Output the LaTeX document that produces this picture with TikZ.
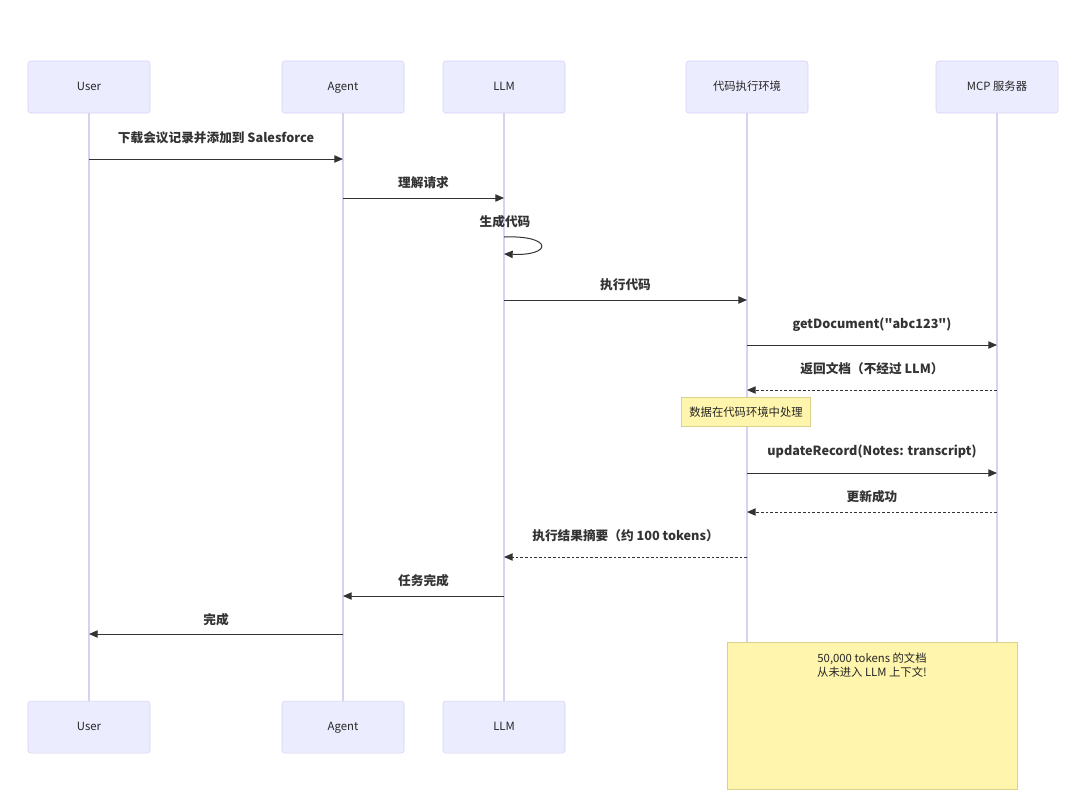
\documentclass[tikz,border=0pt]{standalone}
\usepackage{fontspec}
\setmainfont{Noto Sans CJK SC}[Ligatures=TeXOff]
\usetikzlibrary{arrows.meta,positioning,calc}
\definecolor{actfill}{HTML}{ECECFF}
\definecolor{actline}{HTML}{D6D2F4}
\definecolor{notefill}{HTML}{FFF5AD}
\definecolor{noteline}{HTML}{D8D28C}
\definecolor{txt}{HTML}{333333}

\begin{document}
\begin{tikzpicture}[
  x=0.75pt,y=-0.75pt,
  font=\fontsize{8.5}{10}\selectfont,
  act/.style={draw=actline,fill=actfill,rounded corners=2pt,minimum width=91.5pt,
              minimum height=39pt,inner sep=0pt,text=black!85,
              text height=6.5pt,text depth=1.5pt},
  life/.style={draw=actline,line width=0.8pt},
  msg/.style={draw=txt,line width=0.75pt,-{Triangle[length=6.5pt,width=5.5pt]}},
  ret/.style={msg,dash pattern=on 2pt off 1.5pt},
  lbl/.style={font=\bfseries\fontsize{9.5}{11}\selectfont,text=txt,inner sep=0pt},
  nt/.style={draw=noteline,fill=notefill,inner sep=0pt,align=center,text=black!85}]

\useasboundingbox (0,0) rectangle (1080,790);

% actors (top)
\node[act] (uT) at (89,87)  {User};
\node[act] (aT) at (343,87) {Agent};
\node[act] (lT) at (504,87) {LLM};
\node[act] (cT) at (747,87) {代码执行环境};
\node[act] (mT) at (997,87) {MCP 服务器};

% actors (bottom)
\node[act] (uB) at (89,727)  {User};
\node[act] (aB) at (343,727) {Agent};
\node[act] (lB) at (504,727) {LLM};

% lifelines
\foreach \t/\b in {uT/uB,aT/aB,lT/lB} { \draw[life] (\t) -- (\b); }
\coordinate (cE) at (747,642);
\coordinate (mE) at (997,642);
\draw[life] (cT) -- (cE);
\draw[life] (mT) -- (mE);

% messages
\foreach \p/\q/\y/\ly/\s/\t in {
  uT/aT/159/138/msg/{下载会议记录并添加到 Salesforce},
  aT/lT/198/183/msg/{理解请求},
  lT/cT/300/285/msg/{执行代码},
  cT/mT/345/325/msg/{getDocument("abc123")},
  mT/cT/390/369/ret/{返回文档（不经过 LLM）},
  cT/mT/473/451/msg/{updateRecord(Notes: transcript)},
  mT/cT/512/497/ret/{更新成功},
  cT/lT/557/536/ret/{执行结果摘要（约 100 tokens）},
  lT/aT/596/581/msg/{任务完成},
  aT/uT/634/620/msg/{完成}}
{
  \draw[\s] (\p |- 0,\y) -- (\q |- 0,\y);
  \node[lbl] at ($(\p |- 0,\ly)!0.5!(\q |- 0,\ly)$) {\t};
}

% self call
\node[lbl] (gen) at (505,222) {生成代码};
\draw[msg] (lT |- 0,237) .. controls (553,235) and (553,256) .. (lT |- 0,254);

% notes
\node[nt,minimum width=96.75pt,minimum height=21.75pt] (n1) at (746,412) {数据在代码环境中处理};
\node[nt,minimum width=217.5pt,minimum height=110pt,anchor=north] (n2) at (872,642) {};
\node[text=black!85,align=center,font=\fontsize{8.5}{10.5}\selectfont,anchor=north]
  (n2t) at (872,648) {50,000 tokens 的文档\\从未进入 LLM 上下文!};
\end{tikzpicture}
\end{document}
